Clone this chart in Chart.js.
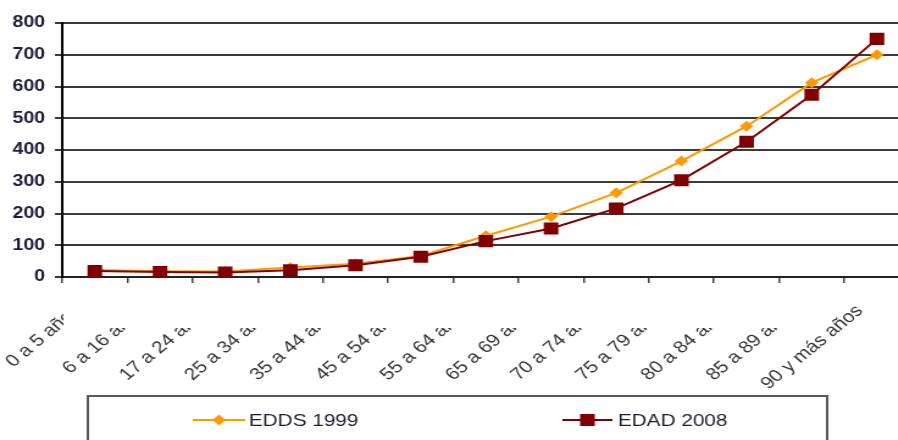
<!DOCTYPE html>
<html>
<head>
<meta charset="utf-8">
<script src="https://cdn.jsdelivr.net/npm/chart.js@4/dist/chart.umd.min.js"></script>
<style>
  html, body { margin: 0; padding: 0; background: #fff; overflow: hidden; width: 898px; height: 440px; }
  #wrap { width: 754px; height: 440px; transform: scaleX(1.22); transform-origin: 0 0; }
  canvas { display: block; }
</style>
</head>
<body>
<div id="wrap"><canvas id="c" width="754" height="440"></canvas></div>
<script>
// Age groups
const categories = [
  '0 a 5 años', '6 a 16 años', '17 a 24 años', '25 a 34 años', '35 a 44 años',
  '45 a 54 años', '55 a 64 años', '65 a 69 años', '70 a 74 años', '75 a 79 años',
  '80 a 84 años', '85 a 89 años', '90 y más años'
];
// Rates per survey
const edds1999 = [22, 18, 17, 30, 42, 66, 130, 190, 265, 365, 475, 612, 700];
const edad2008 = [19, 16, 14, 21, 37, 64, 113, 153, 216, 305, 426, 574, 750];
// Value axis
const yMin = 0, yMax = 800, yStep = 100;

const FONT = "'Liberation Sans', Arial, sans-serif";
const ORANGE = '#FF9900';
const MAROON = '#800000';

// Legend frame drawn under the axis, plus the band that masks the tail of long labels
const boxLegend = {
  id: 'boxLegend',
  afterDraw(chart) {
    const ctx = chart.ctx;
    ctx.save();
    ctx.fillStyle = '#ffffff';
    ctx.fillRect(52, 285, 616, 43);

    ctx.strokeStyle = '#5a5a5a';
    ctx.lineWidth = 2;
    ctx.strokeRect(72, 396, 606, 80);

    const slots = [{ x0: 158, x1: 201, tx: 204 }, { x0: 461, x1: 502, tx: 506.5 }];
    const y = 420;
    chart.data.datasets.forEach((ds, i) => {
      const s = slots[i];
      ctx.strokeStyle = ds.borderColor;
      ctx.lineWidth = 2;
      ctx.beginPath();
      ctx.moveTo(s.x0, y);
      ctx.lineTo(s.x1, y);
      ctx.stroke();
      ctx.fillStyle = ds.pointBackgroundColor;
      Chart.helpers.drawPoint(ctx, {
        pointStyle: ds.pointStyle, radius: ds.pointRadius, rotation: 0, borderWidth: 0
      }, (s.x0 + s.x1) / 2, y);
      ctx.fillStyle = '#1c1c30';
      ctx.font = '17px ' + FONT;
      ctx.textAlign = 'left';
      ctx.textBaseline = 'middle';
      ctx.fillText(ds.label, s.tx, y + 1);
    });
    ctx.restore();
  }
};

new Chart(document.getElementById('c'), {
  type: 'line',
  data: {
    labels: categories,
    datasets: [
      {
        label: 'EDDS 1999',
        data: edds1999,
        borderColor: ORANGE,
        backgroundColor: ORANGE,
        pointBackgroundColor: ORANGE,
        pointBorderColor: ORANGE,
        pointBorderWidth: 0,
        borderWidth: 2,
        pointStyle: 'rectRot',
        pointRadius: 5.5,
        tension: 0,
        order: 1
      },
      {
        label: 'EDAD 2008',
        data: edad2008,
        borderColor: MAROON,
        backgroundColor: MAROON,
        pointBackgroundColor: MAROON,
        pointBorderColor: MAROON,
        pointBorderWidth: 0,
        borderWidth: 2,
        pointStyle: 'rect',
        pointRadius: 8.5,
        tension: 0,
        order: 0
      }
    ]
  },
  options: {
    responsive: false,
    animation: false,
    devicePixelRatio: 1,
    layout: { padding: { top: 23, right: 1, bottom: 0, left: 0 } },
    plugins: {
      legend: { display: false },
      tooltip: { enabled: false }
    },
    scales: {
      x: {
        offset: true,
        grid: {
          offset: true,
          drawOnChartArea: false,
          drawTicks: true,
          tickLength: 6,
          color: '#444',
          lineWidth: 1.5
        },
        border: { display: true, color: '#222', width: 2 },
        ticks: {
          autoSkip: false,
          minRotation: 45,
          maxRotation: 45,
          padding: 18,
          labelOffset: -14,
          color: '#333',
          font: { family: FONT, size: 17 }
        },
        afterFit(scale) { scale.height = 163; }
      },
      y: {
        min: yMin,
        max: yMax,
        grid: {
          color: '#3a3a3a',
          lineWidth: 2,
          drawTicks: true,
          tickLength: 6
        },
        border: { display: true, color: '#000', width: 2 },
        ticks: {
          stepSize: yStep,
          padding: 8,
          color: '#1c1c38',
          font: { family: FONT, size: 16, weight: 'bold' }
        },
        afterFit(scale) { scale.width = 51; }
      }
    }
  },
  plugins: [boxLegend]
});
</script>
</body>
</html>
